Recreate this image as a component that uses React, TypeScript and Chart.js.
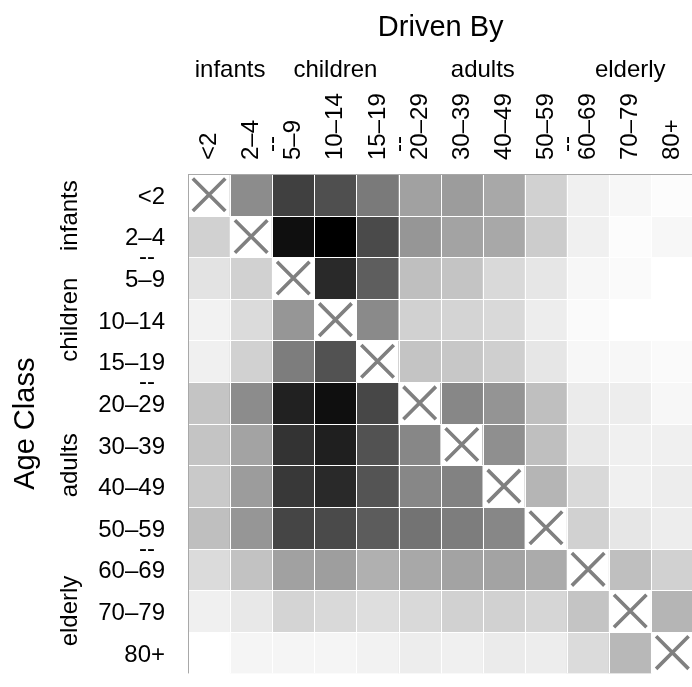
import React, { useEffect, useRef } from "react";
import { Chart, registerables } from "chart.js";

Chart.register(...registerables);

// ---- data ----
const ageClasses = ["<2", "2–4", "5–9", "10–14", "15–19", "20–29", "30–39", "40–49", "50–59", "60–69", "70–79", "80+"];
const groupNames = ["infants", "children", "adults", "elderly"];
const groupFirst = [0, 2, 5, 9];
const groupLast = [1, 4, 8, 11];
const groupBreaks = [2, 5, 9];
const xTitle = "Driven By";
const yTitle = "Age Class";

// shading (0 = white, 100 = black); rows = age class, columns = driven by
const rowLt2 = [null, 45, 75, 69, 52, 37, 39, 34, 18, 6, 3, 1];
const row2to4 = [18, null, 94, 100, 71, 41, 36, 34, 20, 6, 1, 3];
const row5to9 = [11, 18, null, 84, 63, 25, 23, 15, 10, 3, 2, 0];
const row10to14 = [5, 14, 41, null, 46, 18, 17, 15, 7, 2, 0, 0];
const row15to19 = [6, 18, 51, 68, null, 23, 22, 19, 10, 3, 3, 2];
const row20to29 = [23, 45, 87, 94, 72, null, 47, 42, 25, 8, 7, 3];
const row30to39 = [23, 36, 80, 88, 68, 47, null, 44, 25, 9, 6, 6];
const row40to49 = [21, 39, 78, 84, 67, 47, 49, null, 29, 15, 6, 7];
const row50to59 = [25, 41, 73, 71, 64, 55, 51, 47, null, 18, 10, 7];
const row60to69 = [14, 24, 37, 38, 31, 34, 36, 36, 33, null, 25, 18];
const row70to79 = [6, 9, 17, 15, 13, 15, 18, 18, 16, 23, null, 29];
const row80plus = [0, 4, 4, 4, 5, 7, 6, 8, 7, 14, 28, null];

const rows = [rowLt2, row2to4, row5to9, row10to14, row15to19, row20to29, row30to39, row40to49, row50to59, row60to69, row70to79, row80plus];

const FONT = '"Liberation Sans", Arial, Helvetica, sans-serif';

function shade(v: number | null): string {
  if (v == null) return "#ffffff";
  const g = Math.round(255 - v * 2.55);
  return `rgb(${g},${g},${g})`;
}

const decorPlugin = {
  id: "decor",
  afterDatasetsDraw(chart: any) {
    const ctx = chart.ctx;
    const { left, top, right, bottom } = chart.chartArea;
    const n = ageClasses.length;
    const cw = (right - left) / n;
    const ch = (bottom - top) / n;
    ctx.save();
    ctx.fillStyle = "#ffffff";
    for (let k = 1; k < n; k++) {
      ctx.fillRect(Math.round(left + k * cw), top, 1, bottom - top);
      ctx.fillRect(left, Math.round(top + k * ch), right - left, 1);
    }
    ctx.fillStyle = "#a8a8a8";
    ctx.fillRect(left, top, 1, bottom - top);
    ctx.fillRect(left, top, right - left, 1);
    ctx.restore();
  },
  afterDraw(chart: any) {
    const ctx = chart.ctx;
    const xs = chart.scales.x;
    const ys = chart.scales.y;
    const { left, top, right, bottom } = chart.chartArea;
    const n = ageClasses.length;
    const cw = (right - left) / n;
    const ch = (bottom - top) / n;
    ctx.save();
    ctx.fillStyle = "#000000";
    ctx.textBaseline = "alphabetic";

    // axis titles
    ctx.font = `29px ${FONT}`;
    ctx.textAlign = "center";
    ctx.fillText(xTitle, (left + right) / 2, 36);
    ctx.save();
    ctx.translate(33.5, (top + top + n * ch) / 2);
    ctx.rotate(-Math.PI / 2);
    ctx.fillText(yTitle, 0, 0);
    ctx.restore();

    ctx.font = `24px ${FONT}`;
    // group labels
    groupNames.forEach((g, i) => {
      const x0 = xs.getPixelForValue(groupFirst[i]);
      const x1 = xs.getPixelForValue(groupLast[i]);
      ctx.textAlign = "center";
      ctx.fillText(g, (x0 + x1) / 2, 77);
      const y0 = ys.getPixelForValue(groupFirst[i] + 0.5);
      const y1 = ys.getPixelForValue(groupLast[i] + 0.5);
      ctx.save();
      ctx.translate(77, (y0 + y1) / 2);
      ctx.rotate(-Math.PI / 2);
      ctx.fillText(g, 0, 0);
      ctx.restore();
    });

    // tick labels
    ageClasses.forEach((lab, i) => {
      const cx = xs.getPixelForValue(i);
      ctx.save();
      ctx.translate(cx + 7, 160);
      ctx.rotate(-Math.PI / 2);
      ctx.textAlign = "left";
      ctx.fillText(lab, 0, 0);
      ctx.restore();
      const cy = ys.getPixelForValue(i + 0.5);
      ctx.textAlign = "right";
      ctx.fillText(lab, 165, cy + 9);
    });

    // group separators
    groupBreaks.forEach((b) => {
      const bx = left + b * cw;
      ctx.save();
      ctx.translate(bx + 7, 152);
      ctx.rotate(-Math.PI / 2);
      ctx.textAlign = "left";
      ctx.fillText("--", 0, 0);
      ctx.restore();
      const by = top + b * ch;
      ctx.textAlign = "right";
      ctx.fillText("--", 155, by + 7);
    });
    ctx.restore();
  },
};

export default function App() {
  const ref = useRef<HTMLCanvasElement | null>(null);

  useEffect(() => {
    if (!ref.current) return;
    const cellDatasets: any[] = rows.map((row, r) => ({
      type: "bar",
      label: ageClasses[r],
      data: ageClasses.map(() => [r, r + 1]),
      backgroundColor: row.map((v) => shade(v)),
      borderWidth: 0,
      barPercentage: 1,
      categoryPercentage: 1,
      grouped: false,
      order: 2,
    }));
    const diagonal: any = {
      type: "scatter",
      label: "self",
      data: ageClasses.map((c, i) => ({ x: c, y: i + 0.5 })),
      pointStyle: "crossRot",
      pointRadius: 23,
      pointHoverRadius: 23,
      radius: 23,
      pointBorderWidth: 3.6,
      borderWidth: 3.6,
      pointBorderColor: "#808080",
      borderColor: "#808080",
      pointBackgroundColor: "rgba(0,0,0,0)",
      backgroundColor: "rgba(0,0,0,0)",
      showLine: false,
      order: 1,
    };
    const chart = new Chart(ref.current, {
      type: "bar",
      data: { labels: ageClasses, datasets: [...cellDatasets, diagonal] },
      options: {
        animation: false,
        responsive: false,
        events: [],
        layout: { padding: { left: 188, top: 174, right: 16, bottom: 10 } },
        scales: {
          x: { type: "category", display: false, offset: true },
          y: { type: "linear", display: false, min: 0, max: 12, reverse: true },
        },
        plugins: { legend: { display: false }, tooltip: { enabled: false } },
      },
      plugins: [decorPlugin],
    } as any);
    return () => chart.destroy();
  }, []);

  return (
    <div style={{ position: "fixed", left: 0, top: 0, width: 692, height: 687, overflow: "hidden", background: "#ffffff" }}>
      <canvas ref={ref} width={720} height={700} style={{ position: "absolute", left: 0, top: 0, width: 720, height: 700 }} />
    </div>
  );
}
